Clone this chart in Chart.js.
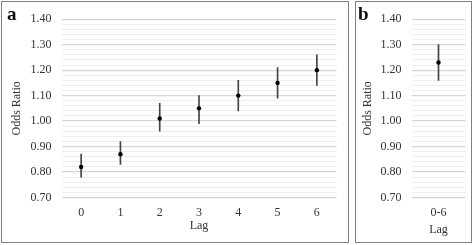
<!DOCTYPE html>
<html>
<head>
<meta charset="utf-8">
<script src="https://cdn.jsdelivr.net/npm/chart.js@4.4.0/dist/chart.umd.min.js"></script>
<style>
  body { margin: 0; background: #fff; width: 473px; height: 245px; position: relative; overflow: hidden; }
  .panel { position: absolute; top: 1px; height: 242px; box-sizing: border-box; border: 1.5px solid #7f7f7f; }
  .tag { position: absolute; font-family: 'Liberation Serif', 'Times New Roman', serif; font-weight: bold; font-size: 19px; color: #111; }
</style>
</head>
<body>
<div class="panel" style="left:1px; width:348px;"><canvas id="chartA"></canvas></div>
<div class="panel" style="left:355px; width:117px;"><canvas id="chartB"></canvas></div>
<div class="tag" style="left:7px; top:3px;">a</div>
<div class="tag" style="left:358px; top:3px;">b</div>
<script>
// panel a: odds ratio by lag
const lagLabels = ['0', '1', '2', '3', '4', '5', '6'];
const lagOR     = [0.82, 0.87, 1.01, 1.05, 1.10, 1.15, 1.20];
const lagLow    = [0.78, 0.83, 0.96, 0.99, 1.04, 1.09, 1.14];
const lagHigh   = [0.87, 0.92, 1.07, 1.10, 1.16, 1.21, 1.26];

// panel b: cumulative lag 0-6
const cumLabels = ['0-6'];
const cumOR     = [1.23];
const cumLow    = [1.16];
const cumHigh   = [1.30];

const yMin = 0.70, yMax = 1.40, yStep = 0.02;   // minor gridlines every 0.02, labels every 0.10

const serif = 'Liberation Serif';
const textColor = '#333';

function isMajor(v){
    return Math.round(v * 100) % 10 === 0;
}

function makeChart(id, labels, est, low, high, opts){
    const ctx = document.getElementById(id);
    return new Chart(ctx, {
        type: 'bar',
        data: {
            labels: labels,
            datasets: [
                {   // point estimate
                    type: 'line',
                    data: est,
                    showLine: false,
                    pointRadius: 2.2,
                    pointBackgroundColor: '#000',
                    pointBorderWidth: 0,
                    order: 0
                },
                {   // confidence interval as thin floating bar
                    data: low.map((l, i) => [l, high[i]]),
                    backgroundColor: '#444',
                    barThickness: 1,
                    order: 1
                }
            ]
        },
        options: {
            responsive: true,
            maintainAspectRatio: false,
            animation: false,
            events: [],
            layout: { padding: { left: 0, right: opts.padRight, top: 15.5, bottom: 0 } },
            plugins: { legend: { display: false }, tooltip: { enabled: false } },
            scales: {
                x: {
                    grid: { display: false, drawTicks: false },
                    border: { display: false },
                    ticks: { color: textColor, padding: 8, font: { family: serif, size: 12 } },
                    title: {
                        display: true, text: 'Lag', color: textColor,
                        font: { family: serif, size: 12 },
                        padding: { top: 0, bottom: opts.xTitlePad }
                    },
                    afterFit: s => { s.height = 44.5; }
                },
                y: {
                    min: yMin,
                    max: yMax,
                    border: { display: false },
                    grid: {
                        drawTicks: false,
                        color: c => isMajor(c.tick.value) ? '#d6d6d6' : '#efefef',
                        lineWidth: c => isMajor(c.tick.value) ? 1.2 : 1
                    },
                    ticks: {
                        stepSize: yStep,
                        autoSkip: false,
                        padding: 10,
                        color: textColor,
                        font: { family: serif, size: 12 },
                        callback: v => isMajor(v) ? v.toFixed(2) : ''
                    },
                    title: {
                        display: true, text: 'Odds Ratio', color: textColor,
                        font: { family: serif, size: 12 },
                        padding: { top: opts.yTitlePad, bottom: 0 }
                    },
                    afterFit: s => { s.width = opts.yWidth; }
                }
            }
        }
    });
}

makeChart('chartA', lagLabels, lagOR, lagLow, lagHigh, { yWidth: 59.5, padRight: 11.5, yTitlePad: 7.3, xTitlePad: 9.3 });
makeChart('chartB', cumLabels, cumOR, cumLow, cumHigh, { yWidth: 55.5, padRight: 5.5, yTitlePad: 4.3, xTitlePad: 5.3 });
</script>
</body>
</html>
